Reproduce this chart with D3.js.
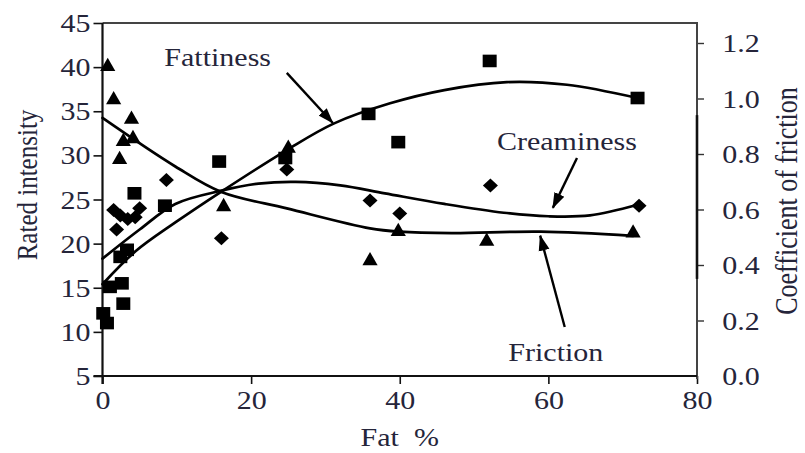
<!DOCTYPE html>
<html><head><meta charset="utf-8">
<script src="https://cdn.jsdelivr.net/npm/d3@7"></script>
<style>
html,body{margin:0;padding:0;background:#fff;}
svg{display:block;}
text{font-family:"Liberation Serif","Times New Roman",serif;fill:#25253a;}
</style></head><body>
<svg id="chart" width="805" height="453"></svg>
<script>
// Fattiness ratings (squares), left axis
const fattinessFat   = [0.1, 0.6, 1.0, 2.6, 2.8, 2.4, 3.3, 4.3, 8.4, 15.7, 24.6, 35.8, 39.8, 52.1, 72.0];
const fattinessScore = [12.1, 11.0, 15.1, 15.5, 13.2, 18.5, 19.3, 25.7, 24.3, 29.3, 29.7, 34.7, 31.5, 40.7, 36.5];

// Creaminess ratings (diamonds), left axis
const creaminessFat   = [1.5, 1.9, 2.4, 3.4, 4.4, 5.0, 8.6, 16.0, 24.8, 36.0, 40.0, 52.2, 72.2];
const creaminessScore = [23.8, 21.6, 23.2, 22.8, 23.0, 24.0, 27.2, 20.6, 28.4, 24.9, 23.4, 26.6, 24.3];

// Coefficient of friction (triangles), right axis
const frictionFat   = [0.7, 1.5, 3.9, 2.8, 4.1, 2.3, 16.3, 25.0, 36.0, 39.8, 51.7, 71.4];
const frictionCoeff = [1.12, 1.00, 0.93, 0.85, 0.86, 0.785, 0.615, 0.825, 0.42, 0.525, 0.49, 0.52];

// Trend lines
const fattinessFitFat   = [0, 4.4, 9.8, 16, 24.8, 31.1, 38.7, 46, 54.4, 62.5, 72];
const fattinessFitScore = [15.4, 19.1, 22.4, 25.9, 30.6, 33.6, 35.9, 37.4, 38.3, 38.0, 36.5];
const creaminessFitFat   = [0, 5, 9.8, 16, 21, 26, 32, 38, 46, 54, 60, 65.6, 72];
const creaminessFitScore = [18.3, 21.6, 24.5, 26.0, 26.8, 27.0, 26.6, 25.7, 24.5, 23.5, 23.1, 23.2, 24.4];
const frictionFitFat   = [0, 9.8, 16, 24.8, 36, 40, 47, 59, 71.4];
const frictionFitCoeff = [0.93, 0.755, 0.663, 0.604, 0.532, 0.52, 0.515, 0.52, 0.505];

// Axis ticks
const fatTicks = [0, 20, 40, 60, 80];
const scoreTicks = [5, 10, 15, 20, 25, 30, 35, 40, 45];
const coeffTicks = [0, 0.2, 0.4, 0.6, 0.8, 1.0, 1.2];

// Callout labels: text anchor point and arrow (from -> to), in fat % / rated intensity units
const calloutNames = ["Fattiness", "Creaminess", "Friction"];
const calloutText  = [[15.5, 41.15], [62.5, 31.6], [61.0, 7.7]];
const calloutFrom  = [[24.8, 39.35], [63.85, 29.7], [62.2, 10.55]];
const calloutTo    = [[31.0, 33.67], [60.6, 24.05], [58.9, 20.9]];

const svg = d3.select("#chart");
const plotLeft = 102.5, plotRight = 697, plotTop = 23, plotBottom = 376;
const SX = 1.2; // horizontal stretch of all lettering

const x = d3.scaleLinear().domain([0, 80]).range([plotLeft, plotRight]);
const y = d3.scaleLinear().domain([5, 45]).range([plotBottom, plotTop]);
const y2 = d3.scaleLinear().domain([0, 1.2]).range([plotBottom, 43]);

// axes
const styleAxis = (g, fs) => {
  g.select(".domain").remove();
  g.selectAll(".tick line").attr("stroke", "#111").attr("stroke-width", 1.6);
  g.selectAll(".tick text").style("font-size", fs + "px").attr("fill", "#25253a")
    .attr("font-family", "Liberation Serif, serif");
};

const gLeft = svg.append("g").attr("transform", `translate(${plotLeft},0)`)
  .call(d3.axisLeft(y).tickValues(scoreTicks).tickSize(9).tickPadding(1).tickFormat(d3.format("d")));
styleAxis(gLeft, 25);
gLeft.selectAll(".tick text").attr("transform", `scale(${SX},1)`).attr("dy", "0.34em");

const gBottom = svg.append("g").attr("transform", `translate(0,${plotBottom})`)
  .call(d3.axisBottom(x).tickValues(fatTicks).tickSize(8).tickPadding(7).tickFormat(d3.format("d")));
styleAxis(gBottom, 25);
gBottom.selectAll(".tick text").attr("transform", `scale(${SX},1)`);

const gRight = svg.append("g").attr("transform", `translate(${plotRight},0)`)
  .call(d3.axisRight(y2).tickValues(coeffTicks).tickSize(7).tickPadding(14).tickFormat(d3.format(".1f")));
styleAxis(gRight, 25);
gRight.selectAll(".tick text").attr("transform", `scale(${SX},1)`).attr("dy", "0.34em");
gRight.selectAll(".tick line").attr("stroke", "#333").attr("stroke-width", 1.4)
  .filter(d => d === 0).remove();

// plot frame: right axis + top border (grey), then left and bottom axes (black)
svg.append("path")
  .attr("d", `M${plotLeft},${plotTop}H${plotRight}V${plotBottom + 3}`)
  .attr("fill", "none").attr("stroke", "#444").attr("stroke-width", 2);
svg.append("path")
  .attr("d", `M${plotLeft},${plotTop}V${plotBottom + 8}M${plotLeft - 9},${plotBottom}H${plotRight}`)
  .attr("fill", "none").attr("stroke", "#111").attr("stroke-width", 2.2);
svg.append("path")
  .attr("d", `M${plotRight},${y2(0.94)}V${y2(0.35)}`)
  .attr("fill", "none").attr("stroke", "#111").attr("stroke-width", 2.6);

// axis titles
svg.append("text").attr("transform", `translate(27,185) scale(${SX},1) rotate(-90)`)
  .attr("text-anchor", "middle").attr("dominant-baseline", "central")
  .style("font-size", "25px").text("Rated intensity");
svg.append("text").attr("transform", `translate(786,201) scale(${SX},1) rotate(-90)`)
  .attr("text-anchor", "middle").attr("dominant-baseline", "central")
  .style("font-size", "26px").text("Coefficient of friction");
svg.append("text").attr("transform", `translate(${x(40)},437) scale(${SX},1)`)
  .attr("text-anchor", "middle").attr("dominant-baseline", "central")
  .style("font-size", "25px").style("white-space", "pre").text("Fat  %");

// trend lines
const line = d3.line().curve(d3.curveCatmullRom.alpha(0.5));
const drawFit = (xs, ys, sy) => svg.append("path")
  .attr("d", line(xs.map((v, i) => [x(v), sy(ys[i])])))
  .attr("fill", "none").attr("stroke", "#000").attr("stroke-width", 2.7)
  .attr("stroke-linecap", "round").attr("stroke-linejoin", "round");
drawFit(fattinessFitFat, fattinessFitScore, y);
drawFit(creaminessFitFat, creaminessFitScore, y);
drawFit(frictionFitFat, frictionFitCoeff, y2);

// markers
const squarePath = "M-7,-6.3H7V6.3H-7Z";
const diamondPath = "M0,-7L7.5,0L0,7L-7.5,0Z";
const trianglePath = "M0,-7.5L7.6,5.8L-7.6,5.8Z";
const drawMarkers = (xs, ys, sy, p) => svg.append("g").selectAll("path")
  .data(xs.map((v, i) => [v, ys[i]])).join("path")
  .attr("d", p).attr("fill", "#000")
  .attr("transform", d => `translate(${x(d[0])},${sy(d[1])})`);
drawMarkers(fattinessFat, fattinessScore, y, squarePath);
drawMarkers(creaminessFat, creaminessScore, y, diamondPath);
drawMarkers(frictionFat, frictionCoeff, y2, trianglePath);

// callouts
svg.append("defs").append("marker").attr("id", "head")
  .attr("viewBox", "0 -6 16 12").attr("refX", 15).attr("refY", 0)
  .attr("markerWidth", 16).attr("markerHeight", 12).attr("markerUnits", "userSpaceOnUse")
  .attr("orient", "auto")
  .append("path").attr("d", "M0,-5.5L16,0L0,5.5Z").attr("fill", "#000");

calloutNames.forEach((name, i) => {
  svg.append("line")
    .attr("x1", x(calloutFrom[i][0])).attr("y1", y(calloutFrom[i][1]))
    .attr("x2", x(calloutTo[i][0])).attr("y2", y(calloutTo[i][1]))
    .attr("stroke", "#000").attr("stroke-width", 2.4).attr("marker-end", "url(#head)");
  svg.append("text")
    .attr("transform", `translate(${x(calloutText[i][0])},${y(calloutText[i][1])}) scale(${SX},1)`)
    .attr("text-anchor", "middle").attr("dominant-baseline", "central")
    .style("font-size", "25px").text(name);
});
</script>
</body></html>
